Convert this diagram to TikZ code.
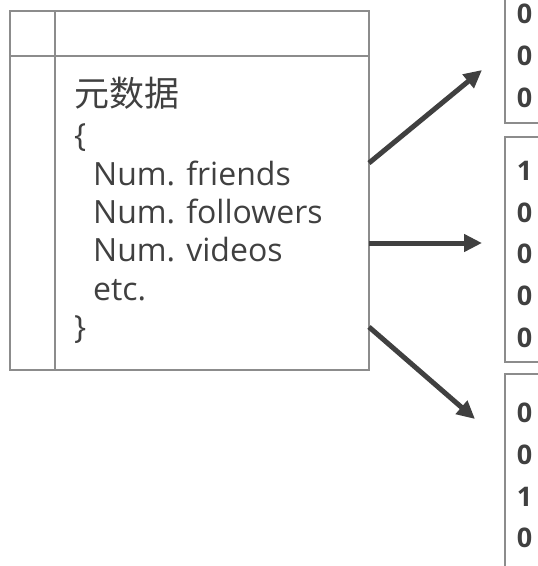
\documentclass[tikz,border=0pt]{standalone}
\usepackage{fontspec}
\setmainfont{Open Sans}
\newfontfamily\cjk{Noto Sans CJK SC}
\usetikzlibrary{arrows.meta}
\definecolor{txt}{HTML}{404040}
\definecolor{frame}{HTML}{8C8C8C}
\begin{document}
\begin{tikzpicture}[x=1pt,y=-1pt,
  frm/.style={draw=frame, line width=2pt},
  lbl/.style={anchor=base west, inner sep=0pt, text=txt, font=\fontsize{32}{38}\selectfont},
  bit/.style={anchor=center, inner sep=0pt, text=txt, font=\fontsize{27}{30}\selectfont\bfseries},
  arr/.style={draw=txt, line width=5pt, -{Triangle[length=18pt,width=17pt]}}]
\useasboundingbox (0,0) rectangle (538,566);
% table
\node[frm, rectangle, minimum width=359pt, minimum height=359pt, inner sep=0pt] (tbl) at (189.5,190.5) {};
\draw[frm] (55,11) -- (55,370);
\draw[frm] (10,56) -- (369,56);
% text
\node[lbl, font=\fontsize{35}{38}\cjk] (t0) at (74,106) {元数据};
\node[lbl] (t1) at (74,146.5) {\{};
\node[lbl] (t2) at (93,185) {Num. friends};
\node[lbl] (t3) at (93,223.3) {Num. followers};
\node[lbl] (t4) at (93,261.6) {Num. videos};
\node[lbl] (t5) at (93,300) {etc.};
\node[lbl] (t6) at (74,338.3) {\}};
% vector boxes
\draw[frm] (560,-10) -- (505,-10) -- (505,123) -- (560,123);
\draw[frm] (560,137) -- (505,137) -- (505,362) -- (560,362);
\draw[frm] (560,374) -- (505,374) -- (505,580) -- (560,580);
\node[bit] (a1) at (524.5,14) {0};
\node[bit] (a2) at (524.5,56) {0};
\node[bit] (a3) at (524.5,98) {0};
\node[bit] (b1) at (524.5,171) {1};
\node[bit] (b2) at (524.5,212.5) {0};
\node[bit] (b3) at (524.5,254) {0};
\node[bit] (b4) at (524.5,296) {0};
\node[bit] (b5) at (524.5,338) {0};
\node[bit] (c1) at (524.5,413) {0};
\node[bit] (c2) at (524.5,455) {0};
\node[bit] (c3) at (524.5,497) {1};
\node[bit] (c4) at (524.5,538) {0};
% arrows
\coordinate (s1) at (369,163);
\coordinate (s2) at (369,243);
\coordinate (s3) at (369,327);
\coordinate (e1) at (482,70);
\coordinate (e2) at (482,243);
\coordinate (e3) at (475,419);
\draw[arr] (s1) -- (e1);
\draw[arr] (s2) -- (e2);
\draw[arr] (s3) -- (e3);
\end{tikzpicture}
\end{document}
